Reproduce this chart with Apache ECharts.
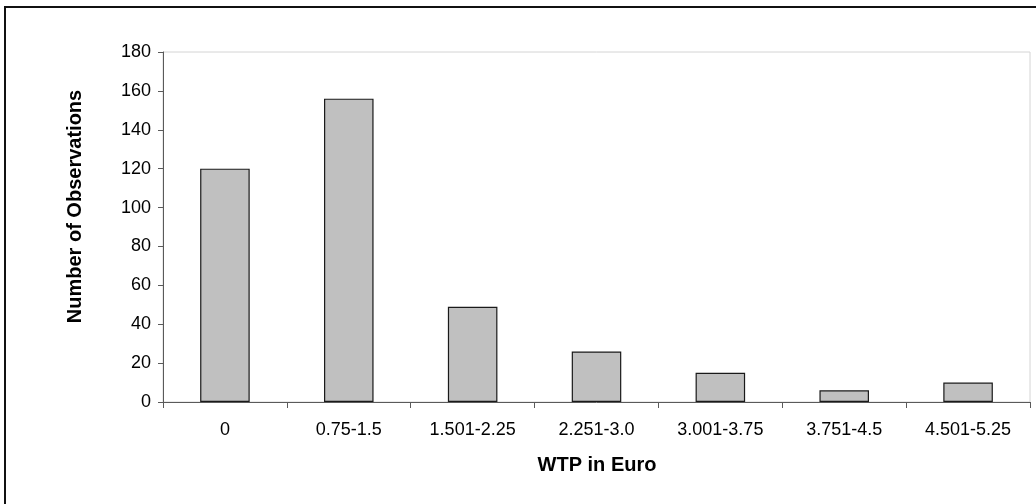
<!DOCTYPE html>
<html>
<head>
<meta charset="utf-8">
<script src="https://cdn.jsdelivr.net/npm/echarts@6/dist/echarts.min.js"></script>
<style>
  html, body { margin: 0; padding: 0; background: #fff; }
  #chart { width: 1036px; height: 504px; }
</style>
</head>
<body>
<div id="chart"></div>
<script>
// Willingness-to-pay classes and how many respondents fall into each
const categories = ['0', '0.75-1.5', '1.501-2.25', '2.251-3.0', '3.001-3.75', '3.751-4.5', '4.501-5.25'];
const observations = [120, 156, 49, 26, 15, 6, 10];
const yTicks = [0, 20, 40, 60, 80, 100, 120, 140, 160, 180];

const FONT = 'Arial, "Liberation Sans", sans-serif';
const AXIS_GREY = '#5a5a5a';

const chart = echarts.init(document.getElementById('chart'), null, { renderer: 'canvas' });

chart.setOption({
  backgroundColor: '#ffffff',
  animation: false,
  grid: {
    left: 163, right: 6, top: 52, bottom: 102,
    show: true,
    borderColor: '#d4d4d4',
    borderWidth: 1,
    backgroundColor: 'transparent'
  },
  xAxis: {
    type: 'category',
    data: categories,
    boundaryGap: true,
    axisLine: { lineStyle: { color: AXIS_GREY, width: 1 } },
    axisTick: { show: true, alignWithLabel: false, length: 6, lineStyle: { color: AXIS_GREY } },
    axisLabel: { color: '#000', fontFamily: FONT, fontSize: 18, margin: 19 },
    splitLine: { show: false }
  },
  yAxis: {
    type: 'value',
    min: yTicks[0],
    max: yTicks[yTicks.length - 1],
    interval: yTicks[1] - yTicks[0],
    axisLine: { show: true, lineStyle: { color: AXIS_GREY, width: 1 } },
    axisTick: { show: true, length: 5, lineStyle: { color: AXIS_GREY } },
    axisLabel: { color: '#000', fontFamily: FONT, fontSize: 18, margin: 12 },
    splitLine: { show: false }
  },
  graphic: [
    {
      type: 'rect',
      silent: true,
      shape: { x: 5, y: 7, width: 1100, height: 600 },
      style: { fill: 'none', stroke: '#111', lineWidth: 2 }
    },
    {
      type: 'text',
      silent: true,
      x: 75.5, y: 206.5,
      rotation: Math.PI / 2,
      style: {
        text: 'Number of Observations',
        font: 'bold 20px ' + FONT,
        fill: '#000',
        align: 'center',
        verticalAlign: 'middle'
      }
    },
    {
      type: 'text',
      silent: true,
      x: 597, y: 465,
      style: {
        text: 'WTP in Euro',
        font: 'bold 20px ' + FONT,
        fill: '#000',
        align: 'center',
        verticalAlign: 'middle'
      }
    }
  ],
  series: [{
    type: 'bar',
    data: observations,
    barWidth: '40%',
    itemStyle: { color: '#c0c0c0', borderColor: '#1a1a1a', borderWidth: 1.2 },
    silent: true
  }]
});
</script>
</body>
</html>
